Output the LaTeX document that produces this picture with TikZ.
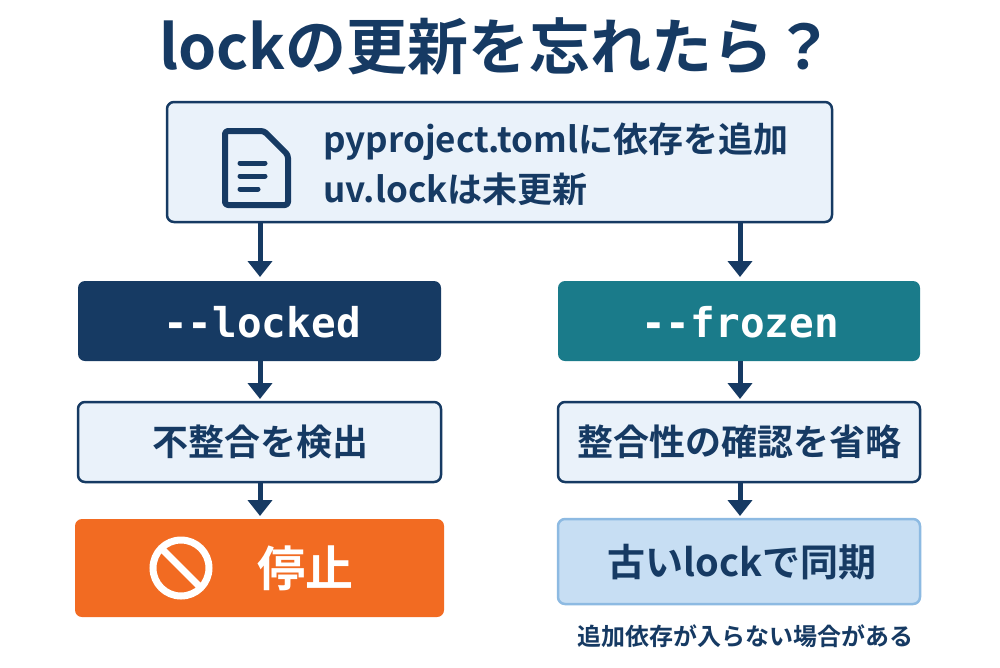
\documentclass[tikz,border=0pt]{standalone}
\usepackage{fontspec}
\setmainfont{Noto Sans CJK JP}[BoldFont={* Bold}]
\newfontfamily\monof{DejaVu Sans Mono}
\usetikzlibrary{arrows.meta}
\definecolor{navy}{HTML}{163A63}
\definecolor{teal}{HTML}{1A7B8A}
\definecolor{lite}{HTML}{EAF2FA}
\definecolor{orng}{HTML}{F26B22}
\definecolor{sky}{HTML}{C7DEF3}
\definecolor{skyb}{HTML}{8DBAE2}
\begin{document}
\begin{tikzpicture}[x=1pt,y=-1pt,
 box/.style={draw=navy,line width=2.5pt,rounded corners=7pt,fill=lite},
 solid/.style={rounded corners=7pt},
 arr/.style={navy,line width=5pt,-{Triangle[width=24pt,length=16pt]}},
 txt/.style={font=\bfseries\fontsize{36}{40}\selectfont,text=navy}]
\useasboundingbox (0,0) rectangle (1000,667);
\fill[white] (0,0) rectangle (1000,667);
\node[font=\bfseries\fontsize{61}{66}\selectfont,text=navy] (title) at (497,46) {lockの更新を忘れたら？};
\draw[box] (167,102) rectangle (832,222);
\node (top) at (500,162) {};
% document icon
\draw[navy,line width=6pt,rounded corners=3pt,line join=round] (225,131) -- (264,131) -- (288,155) -- (288,205) -- (225,205) -- cycle;
\draw[navy,line width=5pt,line cap=round] (240,163)--(265,163) (240,176)--(265,176) (240,189)--(258,189);
\node[txt,anchor=west,font=\bfseries\fontsize{35}{38}\selectfont] (t1) at (320,142) {pyproject.tomlに依存を追加};
\node[txt,anchor=west,font=\bfseries\fontsize{35}{38}\selectfont] (t2) at (320,189) {uv.lockは未更新};
\fill[navy,solid] (78,281) rectangle (441,361);
\node[font=\monof\bfseries\fontsize{41}{44}\selectfont,text=white] (lk) at (262,322) {-{}-locked};
\fill[teal,solid] (558,281) rectangle (920,361);
\node[font=\monof\bfseries\fontsize{41}{44}\selectfont,text=white] (fz) at (740,322) {-{}-frozen};
\draw[box] (78,402) rectangle (441,482);
\node[txt] (det) at (260,442) {不整合を検出};
\draw[box] (558,402) rectangle (920,482);
\node[txt] (skip) at (739,442) {整合性の確認を省略};
\fill[orng,solid] (75,519) rectangle (444,617);
\node[font=\bfseries\fontsize{48}{52}\selectfont,text=white] (stop) at (305,568) {停止};
\draw[white,line width=7pt] (181,568) circle (28pt);
\draw[white,line width=7pt] (161,548) -- (201,588);
\draw[skyb,line width=2.5pt,rounded corners=7pt,fill=sky] (558,519) rectangle (920,604);
\node[txt,font=\bfseries\fontsize{38}{42}\selectfont] (sync) at (742,562) {古いlockで同期};
\node[font=\bfseries\fontsize{24}{27}\selectfont,text=navy] (note) at (745,636) {追加依存が入らない場合がある};
\coordinate (a1) at (260,222); \coordinate (a2) at (740,222);
\draw[arr] (a1) -- (260,277);
\draw[arr] (a2) -- (740,277);
\draw[arr] (260,361) -- (260,399);
\draw[arr] (740,361) -- (740,399);
\draw[arr] (260,482) -- (260,516);
\draw[arr] (740,482) -- (740,516);
\end{tikzpicture}
\end{document}
